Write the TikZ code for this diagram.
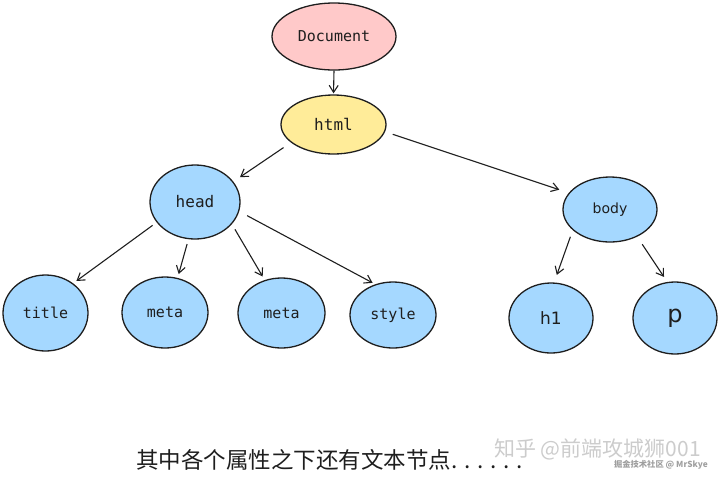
\documentclass[tikz,border=0pt]{standalone}
\usepackage{fontspec}
\setmonofont{DejaVu Sans Mono}
\setsansfont{DejaVu Sans}
\newfontfamily\cjk{Noto Sans CJK SC}
\usetikzlibrary{shapes.geometric,arrows.meta}
\definecolor{ink}{HTML}{1E1E1E}
\definecolor{docpink}{HTML}{FFC9C9}
\definecolor{tagyellow}{HTML}{FFEC99}
\definecolor{tagblue}{HTML}{A5D8FF}

\begin{document}
\begin{tikzpicture}[x=1pt, y=-1pt,
  elli/.style={ellipse, draw=ink, line width=1.3pt, inner sep=0pt, text=ink,
    font=\ttfamily\fontsize{15}{18}\selectfont},
  leaf/.style={elli, fill=tagblue},
  arr/.style={-{Straight Barb[length=7pt,width=9pt]}, draw=ink, line width=1.1pt}]
  \useasboundingbox (0,0) rectangle (720,480);

  \node [elli, fill=docpink, minimum width=124pt, minimum height=67pt] (D) at (334,36.5) {Document};
  \node [elli, fill=tagyellow, minimum width=105pt, minimum height=59pt, font=\ttfamily\fontsize{16}{18}\selectfont] (H) at (333.5,124.5) {html};

  \node [leaf, minimum width=90pt, minimum height=74pt, font=\ttfamily\fontsize{16}{18}\selectfont] (HD) at (195,202) {head};
  \node [leaf, minimum width=94pt, minimum height=65pt, font=\sffamily\fontsize{14}{16}\selectfont] (BD) at (610,209.5) {body};

  \node [leaf, minimum width=85pt, minimum height=76pt] (T) at (45.5,313) {title};
  \node [leaf, minimum width=86pt, minimum height=71pt] (M1) at (165,312.5) {meta};
  \node [leaf, minimum width=87pt, minimum height=70pt] (M2) at (281.5,313) {meta};
  \node [leaf, minimum width=86pt, minimum height=66pt] (S) at (393,315) {style};
  \node [leaf, minimum width=84pt, minimum height=70pt, font=\sffamily\fontsize{17}{20}\selectfont] (H1) at (551,318) {h1};
  \node [leaf, minimum width=84pt, minimum height=72pt, font=\sffamily\fontsize{24}{28}\selectfont] (P) at (675,318) {p};

  \draw [arr, shorten >=1pt] (D.south) -- (H.north);
  \draw [arr, shorten <=9pt, shorten >=8pt] (H.203) -- (HD.28);
  \draw [arr, shorten <=8pt, shorten >=10pt] (H.352) -- (BD.158);
  \draw [arr, shorten <=5pt, shorten >=4pt] (HD.208) -- (T.47);
  \draw [arr, shorten <=5pt, shorten >=4pt] (HD.260) -- (M1.70);
  \draw [arr, shorten <=6pt, shorten >=4pt] (HD.329) -- (M2.117);
  \draw [arr, shorten <=9pt, shorten >=3pt] (HD.348) -- (S.120);
  \draw [arr, shorten <=7pt, shorten >=8pt] (BD.209) -- (H1.85);
  \draw [arr, shorten <=9pt, shorten >=6pt] (BD.315) -- (P.102);

  % caption and watermarks
  \node [anchor=west, inner sep=0pt, text=ink, font=\cjk\fontsize{22.5}{26}\selectfont] (cap) at (136,460)
    {其中各个属性之下还有文本节点{\addfontfeature{LetterSpace=30}......}};
  \node [anchor=east, inner sep=0pt, text=gray!40, font=\cjk\fontsize{21}{24}\selectfont] (wm) at (701,449)
    {知乎 @前端攻城狮001};
  \node [anchor=east, inner sep=0pt, text=gray!75, font=\cjk\bfseries\fontsize{8.3}{10}\selectfont] (wm2) at (708,465)
    {掘金技术社区 @ MrSkye};
\end{tikzpicture}
\end{document}
